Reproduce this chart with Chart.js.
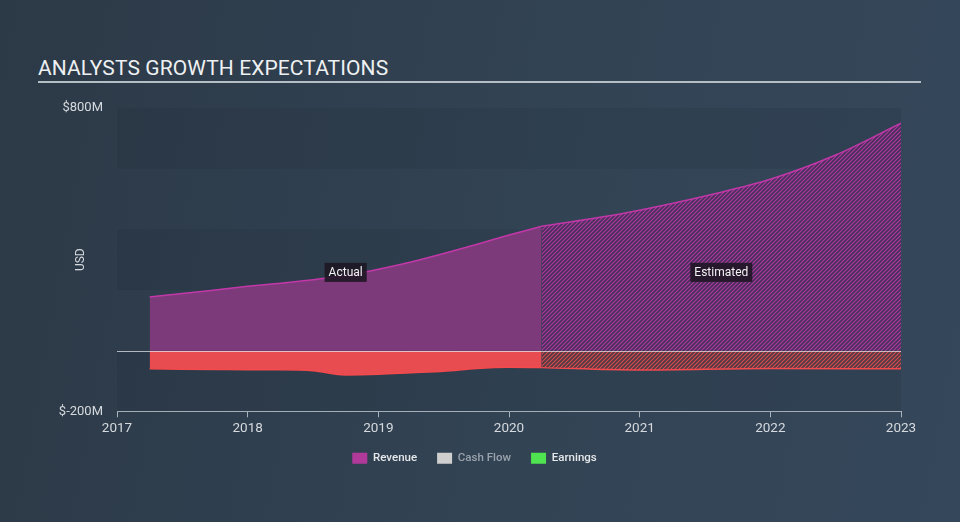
<!DOCTYPE html>
<html>
<head>
<meta charset="utf-8">
<script src="https://cdn.jsdelivr.net/npm/chart.js@4.4.0/dist/chart.umd.min.js"></script>
<style>
  html, body { margin: 0; padding: 0; }
  body {
    width: 960px; height: 522px; overflow: hidden; position: relative;
    background: linear-gradient(100deg, #2c3947 0%, #324354 55%, #35475a 100%);
    font-family: Roboto, "Open Sans", sans-serif;
  }
  #title {
    position: absolute; left: 38px; top: 56px; width: 883px;
    color: #eef0f2; font-size: 21px; letter-spacing: 0.1px;
    line-height: 24px; padding-bottom: 1px;
    border-bottom: 2px solid #b5bdc5;
  }
  #wrap { position: absolute; left: 0; top: 0; width: 960px; height: 522px; }
</style>
</head>
<body>
<div id="title">ANALYSTS GROWTH EXPECTATIONS</div>
<div id="wrap"><canvas id="chart"></canvas></div>
<script>
// values in $M, x in fractional years
let revenueActualX = [2017.25, 2017.5, 2017.75, 2018, 2018.25, 2018.5, 2018.75, 2019, 2019.25, 2019.5, 2019.75, 2020, 2020.25];
let revenueActual = [177, 188, 200, 212, 222, 234, 248, 268, 292, 320, 350, 381, 410];
let revenueEstX = [2020.25, 2020.9, 2021.6, 2022, 2022.5, 2023];
let revenueEst = [410, 455, 520, 565, 645, 750];

let earningsActualX = revenueActualX;
let earningsActual = [-60, -61, -62, -63, -63, -66, -80, -78, -73, -68, -59, -55, -56];
let earningsEstX = [2020.25, 2021, 2022, 2023];
let earningsEst = [-56, -64, -59, -60];

let cashFlow = []; // hidden series, nothing drawn

let yTicks = [800, -200];
let bandEdges = [[600, 800], [200, 400], [-200, 0]];

function pts(xs, ys) {
    return xs.map((x, i) => ({x: x, y: ys[i]}));
}

function hatch(bg, line) {
    let c = document.createElement('canvas');
    c.width = 4; c.height = 4;
    let g = c.getContext('2d');
    g.fillStyle = bg;
    g.fillRect(0, 0, 4, 4);
    g.strokeStyle = line;
    g.lineWidth = 1.2;
    g.beginPath();
    g.moveTo(0, 4); g.lineTo(4, 0);
    g.moveTo(-1, 1); g.lineTo(1, -1);
    g.moveTo(3, 5); g.lineTo(5, 3);
    g.stroke();
    return g.createPattern(c, 'repeat');
}

// shaded horizontal bands + zero line + Actual / Estimated tags
let decor = {
    id: 'decor',
    beforeDatasetsDraw(chart) {
        let {ctx, chartArea: a, scales: {y}} = chart;
        ctx.save();
        ctx.fillStyle = 'rgba(20, 28, 38, 0.1)';
        bandEdges.forEach(b => {
            let t = y.getPixelForValue(b[1]), bt = y.getPixelForValue(b[0]);
            ctx.fillRect(a.left, t, a.right - a.left, bt - t);
        });
        ctx.restore();
    },
    afterDatasetsDraw(chart) {
        let {ctx, chartArea: a, scales: {x, y}} = chart;
        let y0 = Math.round(y.getPixelForValue(0)) + 0.5;
        ctx.save();
        ctx.strokeStyle = 'rgba(225, 228, 232, 0.75)';
        ctx.lineWidth = 1;
        ctx.beginPath();
        ctx.moveTo(a.left, y0);
        ctx.lineTo(a.right, y0);
        ctx.stroke();

        let tags = [
            ['Actual', (revenueActualX[0] + revenueActualX[revenueActualX.length - 1]) / 2],
            ['Estimated', (revenueEstX[0] + revenueEstX[revenueEstX.length - 1]) / 2]
        ];
        ctx.font = '12px Roboto, sans-serif';
        ctx.textAlign = 'center';
        ctx.textBaseline = 'middle';
        let ty = y.getPixelForValue(258);
        tags.forEach(t => {
            let px = x.getPixelForValue(t[1]);
            let w = ctx.measureText(t[0]).width + 8;
            ctx.fillStyle = 'rgba(28, 22, 34, 0.88)';
            ctx.fillRect(px - w / 2, ty - 9.5, w, 19);
            ctx.fillStyle = '#f2f2f2';
            ctx.fillText(t[0], px, ty + 0.5);
        });
        ctx.restore();
    }
};

let revHatch = hatch('rgba(80, 42, 96, 0.75)', 'rgba(184, 58, 162, 0.9)');
let earnHatch = hatch('rgba(92, 56, 62, 0.75)', 'rgba(226, 78, 82, 0.9)');

new Chart(document.getElementById('chart'), {
    type: 'line',
    data: {
        datasets: [
            {
                label: 'Revenue',
                data: pts(revenueActualX, revenueActual),
                backgroundColor: 'rgba(125, 58, 122, 1)',
                borderColor: '#c238a9',
                borderWidth: 1.5,
                fill: 'origin',
            },
            {
                label: 'Revenue est',
                data: pts(revenueEstX, revenueEst),
                backgroundColor: revHatch,
                borderColor: '#c238a9',
                borderWidth: 1.5,
                fill: 'origin',
            },
            {
                label: 'Cash Flow',
                data: cashFlow,
                hidden: true,
            },
            {
                label: 'Earnings',
                data: pts(earningsActualX, earningsActual),
                backgroundColor: 'rgba(232, 76, 80, 1)',
                borderColor: '#f24a4d',
                borderWidth: 1.5,
                fill: 'origin',
            },
            {
                label: 'Earnings est',
                data: pts(earningsEstX, earningsEst),
                backgroundColor: earnHatch,
                borderColor: '#f24a4d',
                borderWidth: 1.5,
                fill: 'origin',
            }
        ]
    },
    options: {
        responsive: true,
        maintainAspectRatio: false,
        animation: false,
        elements: {point: {radius: 0}, line: {cubicInterpolationMode: 'monotone'}},
        layout: {padding: {top: 108, right: 59, left: 48, bottom: 48}},
        scales: {
            x: {
                type: 'linear',
                min: 2017,
                max: 2023,
                border: {color: '#a9b3be', width: 1},
                grid: {drawOnChartArea: false, drawTicks: true, tickLength: 6, color: '#a9b3be'},
                afterFit: s => { s.height -= 7; },
                ticks: {
                    stepSize: 1,
                    padding: 3,
                    color: '#d6dade',
                    font: {family: 'Roboto', size: 13.5},
                    maxRotation: 0,
                    callback: v => String(v),
                },
            },
            y: {
                min: -200,
                max: 800,
                border: {display: false},
                grid: {display: false, drawTicks: false},
                afterFit: s => { s.width = 69; },
                afterBuildTicks: s => { s.ticks = yTicks.map(v => ({value: v})); },
                ticks: {
                    padding: 14,
                    color: '#d6dade',
                    font: {family: 'Roboto', size: 13},
                    callback: v => '$' + v + 'M',
                },
                title: {
                    display: true,
                    text: 'USD',
                    color: '#d6dade',
                    font: {family: 'Roboto', size: 12},
                    padding: {top: 26, bottom: 0},
                },
            }
        },
        plugins: {
            tooltip: {enabled: false},
            legend: {
                display: true,
                position: 'bottom',
                labels: {
                    boxWidth: 15,
                    boxHeight: 11,
                    padding: 20,
                    font: {family: 'Roboto', size: 11.5, weight: '500'},
                    generateLabels: () => [
                        {text: 'Revenue', fillStyle: '#b0399a', strokeStyle: '#b0399a', lineWidth: 0, fontColor: '#e6e8ea', datasetIndex: 0},
                        {text: 'Cash Flow', fillStyle: '#cfcfcf', strokeStyle: '#cfcfcf', lineWidth: 0, fontColor: '#9aa2ab', datasetIndex: 2},
                        {text: 'Earnings', fillStyle: '#4fe34f', strokeStyle: '#4fe34f', lineWidth: 0, fontColor: '#e6e8ea', datasetIndex: 3},
                    ],
                },
            },
        },
    },
    plugins: [decor]
});
</script>
</body>
</html>
